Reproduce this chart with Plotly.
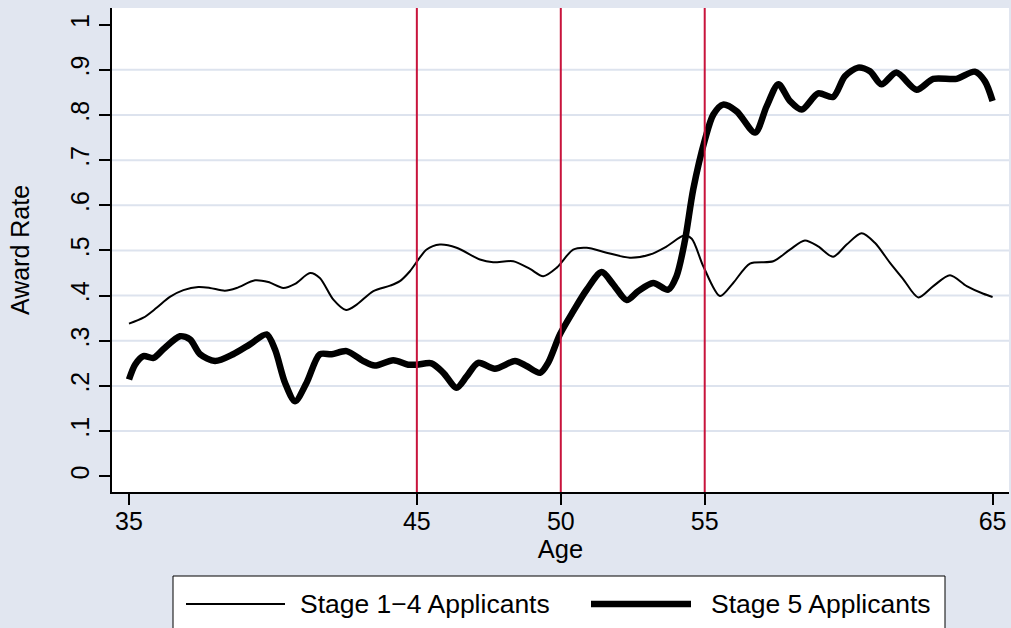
import plotly.graph_objects as go

# Smoothed award rate by age, stages 1-4
age_stage14 = [35.0, 35.5, 35.96, 36.42, 36.89, 37.41, 37.81, 38.33, 38.74, 39.38,
               39.84, 40.36, 40.77, 41.29, 41.63, 42.10, 42.54, 42.91, 43.49, 44.07,
               44.41, 44.76, 45.34, 45.80, 46.38, 47.19, 47.65, 48.35, 48.93, 49.39,
               49.86, 50.43, 50.90, 51.59, 52.40, 53.10, 53.68, 54.28, 54.55, 54.95,
               55.53, 55.99, 56.57, 57.38, 57.96, 58.48, 58.94, 59.46, 59.93, 60.45,
               60.91, 61.43, 61.90, 62.42, 62.94, 63.52, 64.10, 64.68, 65.0]
rate_stage14 = [0.338, 0.351, 0.373, 0.397, 0.412, 0.419, 0.417, 0.411, 0.417, 0.434,
                0.430, 0.417, 0.426, 0.450, 0.439, 0.391, 0.368, 0.380, 0.410, 0.422,
                0.432, 0.454, 0.502, 0.513, 0.506, 0.480, 0.474, 0.476, 0.459, 0.443,
                0.462, 0.502, 0.506, 0.495, 0.484, 0.491, 0.509, 0.533, 0.526, 0.465,
                0.399, 0.428, 0.471, 0.476, 0.502, 0.522, 0.509, 0.486, 0.513, 0.538,
                0.517, 0.473, 0.436, 0.396, 0.421, 0.445, 0.421, 0.404, 0.397]

# Smoothed award rate by age, stage 5
age_stage5 = [35.0, 35.21, 35.5, 35.85, 36.19, 36.77, 37.12, 37.47, 37.99, 38.62,
              39.20, 39.78, 40.07, 40.42, 40.77, 41.17, 41.63, 42.04, 42.56, 43.14,
              43.54, 44.18, 44.70, 45.0, 45.51, 45.92, 46.38, 46.73, 47.13, 47.71,
              48.41, 48.81, 49.28, 49.56, 49.97, 50.43, 50.90, 51.42, 51.82, 52.29,
              52.69, 53.21, 53.73, 54.02, 54.31, 54.60, 55.01, 55.30, 55.64, 56.11,
              56.75, 57.15, 57.56, 57.96, 58.37, 58.94, 59.46, 59.87, 60.33, 60.74,
              61.14, 61.66, 62.36, 62.94, 63.75, 64.38, 64.73, 65.0]
rate_stage5 = [0.214, 0.247, 0.266, 0.262, 0.281, 0.310, 0.303, 0.270, 0.255, 0.270,
               0.292, 0.314, 0.281, 0.207, 0.166, 0.207, 0.270, 0.270, 0.277, 0.255,
               0.245, 0.257, 0.247, 0.247, 0.250, 0.229, 0.196, 0.221, 0.251, 0.238,
               0.255, 0.244, 0.229, 0.251, 0.314, 0.365, 0.413, 0.452, 0.425, 0.390,
               0.410, 0.428, 0.413, 0.443, 0.521, 0.635, 0.746, 0.801, 0.823, 0.808,
               0.761, 0.819, 0.868, 0.831, 0.812, 0.848, 0.840, 0.886, 0.905, 0.897,
               0.868, 0.894, 0.856, 0.880, 0.880, 0.896, 0.875, 0.831]

cutoff_ages = [45, 50, 55]
x_ticks = [35, 45, 50, 55, 65]
y_ticks = [0, 0.1, 0.2, 0.3, 0.4, 0.5, 0.6, 0.7, 0.8, 0.9, 1.0]
y_tick_labels = ["0", ".1", ".2", ".3", ".4", ".5", ".6", ".7", ".8", ".9", "1"]
grid_values = [0.1, 0.2, 0.3, 0.4, 0.5, 0.6, 0.7, 0.8, 0.9]
series_names = ["Stage 1\u22124 Applicants", "Stage 5 Applicants"]

BG = "#e1e6f0"
GRID = "#dde3ee"
RED = "#c8143c"
FONT = "Liberation Sans, Arial, sans-serif"

fig = go.Figure()
fig.add_trace(go.Scatter(x=age_stage14, y=rate_stage14, mode="lines",
                         name=series_names[0],
                         line=dict(color="black", width=2, shape="spline", smoothing=0.8)))
fig.add_trace(go.Scatter(x=age_stage5, y=rate_stage5, mode="lines",
                         name=series_names[1],
                         line=dict(color="black", width=6.5, shape="spline", smoothing=0.8)))

shapes = []
# horizontal grid (interior ticks only)
for g in grid_values:
    shapes.append(dict(type="line", xref="paper", x0=0, x1=1, yref="y", y0=g, y1=g,
                       line=dict(color=GRID, width=2), layer="below"))
# cutoff ages
for a in cutoff_ages:
    shapes.append(dict(type="line", xref="x", x0=a, x1=a, yref="paper", y0=0, y1=1,
                       line=dict(color=RED, width=2), layer="above"))

# legend box and samples (paper coords; plot area spans x 112..1009, y 8..492 px)
def px_x(p):
    return (p - 112) / 897.0

def px_y(p):
    return (492 - p) / 484.0

LEG_Y = 604
shapes.append(dict(type="rect", xref="paper", yref="paper",
                   x0=px_x(173), x1=px_x(945), y0=px_y(576), y1=px_y(660),
                   line=dict(color="black", width=1), fillcolor="white", layer="above"))
shapes.append(dict(type="line", xref="paper", yref="paper",
                   x0=px_x(186), x1=px_x(285), y0=px_y(LEG_Y), y1=px_y(LEG_Y),
                   line=dict(color="black", width=2)))
shapes.append(dict(type="line", xref="paper", yref="paper",
                   x0=px_x(591), x1=px_x(691), y0=px_y(LEG_Y), y1=px_y(LEG_Y),
                   line=dict(color="black", width=6.5)))

annotations = [
    dict(text=series_names[0], xref="paper", yref="paper", x=px_x(298), y=px_y(LEG_Y),
         xanchor="left", yanchor="middle", showarrow=False,
         font=dict(family=FONT, size=26.5, color="black")),
    dict(text=series_names[1], xref="paper", yref="paper", x=px_x(709), y=px_y(LEG_Y),
         xanchor="left", yanchor="middle", showarrow=False,
         font=dict(family=FONT, size=26.5, color="black")),
]

fig.update_layout(
    width=1011, height=628,
    margin=dict(l=112, r=2, t=8, b=136),
    paper_bgcolor=BG, plot_bgcolor="white",
    showlegend=False,
    font=dict(family=FONT, size=25, color="black"),
    shapes=shapes, annotations=annotations,
    xaxis=dict(range=[34.41, 65.57], tickvals=x_ticks, ticktext=[str(t) for t in x_ticks],
               showgrid=False, zeroline=False, showline=True, linecolor="black", linewidth=1.5,
               ticks="outside", ticklen=11, tickwidth=1.5, tickcolor="black",
               tickfont=dict(size=25), ticklabelstandoff=-5,
               title=dict(text="Age", font=dict(size=25.5), standoff=6)),
    yaxis=dict(range=[-0.035, 1.037], tickvals=y_ticks, ticktext=y_tick_labels,
               tickangle=-90, showgrid=False, zeroline=False, showline=True,
               linecolor="black", linewidth=1.5,
               ticks="outside", ticklen=11, tickwidth=1.5, tickcolor="black",
               tickfont=dict(size=25),
               title=dict(text="Award Rate", font=dict(size=25), standoff=30)),
)

fig.write_html("out.html")
